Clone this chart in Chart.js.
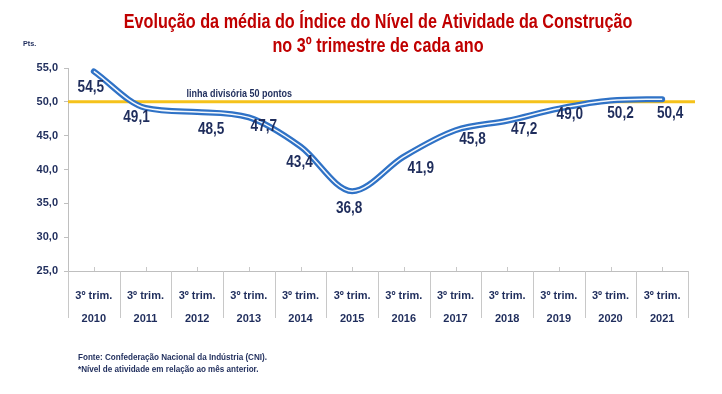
<!DOCTYPE html>
<html>
<head>
<meta charset="utf-8">
<script src="https://cdn.jsdelivr.net/npm/chart.js@4.4.0/dist/chart.umd.min.js"></script>
<style>
  html, body { margin: 0; padding: 0; background: #fff; }
  #wrap { width: 722px; height: 394px; }
</style>
</head>
<body>
<div id="wrap"><canvas id="chart" width="722" height="394"></canvas></div>
<script>
'use strict'
// dados do grafico
const trimestres = ['3º trim.', '3º trim.', '3º trim.', '3º trim.', '3º trim.', '3º trim.',
  '3º trim.', '3º trim.', '3º trim.', '3º trim.', '3º trim.', '3º trim.']
const anos = ['2010', '2011', '2012', '2013', '2014', '2015', '2016', '2017', '2018', '2019', '2020', '2021']
const indice = [54.5, 49.1, 48.5, 47.7, 43.4, 36.8, 41.9, 45.8, 47.2, 49.0, 50.2, 50.4]
const linhaDivisoria = 50
const yTicks = [25, 30, 35, 40, 45, 50, 55]

const titulo = ['Evolução da média do Índice do Nível de Atividade da Construção', 'no 3º trimestre de cada ano']
const rodape = ['Fonte: Confederação Nacional da Indústria (CNI).', '*Nível de atividade em relação ao mês anterior.']

// deslocamento dos rotulos (px)
const rotuloDx = [-3, -9, 14, 15, -1, -3, 17, 17, 17, 11, 10, 8]
const rotuloDy = [16, 10, 18, 9, 16, 17, 12, 9, 9, 6, 13, 14]

const FONTE = '"Liberation Sans", Arial, sans-serif'
const AZUL_TXT = '#1f2d5c'
const fmt = v => v.toFixed(1).replace('.', ',')

// texto "estreito" (escala horizontal)
function textoEstreito(ctx, txt, x, y, esc) {
  ctx.save()
  ctx.translate(x, y)
  ctx.scale(esc, 1)
  ctx.fillText(txt, 0, 0)
  ctx.restore()
}

// plugin para textos, linha amarela e divisorias
const extras = {
  id: 'extras',
  beforeDatasetsDraw(chart) {
    const ctx = chart.ctx
    const y = chart.scales.y.getPixelForValue(linhaDivisoria)
    const a = chart.chartArea
    ctx.save()
    ctx.strokeStyle = '#f5c21b'
    ctx.lineWidth = 3
    ctx.beginPath()
    ctx.moveTo(a.left, y)
    ctx.lineTo(a.right + 7, y)
    ctx.stroke()
    ctx.fillStyle = AZUL_TXT
    ctx.font = 'bold 10px ' + FONTE
    ctx.textBaseline = 'bottom'
    ctx.textAlign = 'left'
    textoEstreito(ctx, 'linha divisória 50 pontos', chart.scales.x.getPixelForValue(1) + 41, y - 3, 0.9)
    ctx.restore()
  },
  afterDraw(chart) {
    const ctx = chart.ctx
    const x = chart.scales.x
    const a = chart.chartArea
    ctx.save()
    // divisorias das categorias
    ctx.strokeStyle = '#c8c8c8'
    ctx.lineWidth = 1
    const passo = x.getPixelForValue(1) - x.getPixelForValue(0)
    for (let i = 0; i <= anos.length; i++) {
      const px = Math.round(x.getPixelForValue(i) - passo / 2) + 0.5
      ctx.beginPath()
      ctx.moveTo(px, a.bottom)
      ctx.lineTo(px, a.bottom + 47)
      ctx.stroke()
    }
    for (let i = 0; i < anos.length; i++) {
      const px = Math.round(x.getPixelForValue(i)) + 0.5
      ctx.beginPath()
      ctx.moveTo(px, a.bottom - 4)
      ctx.lineTo(px, a.bottom)
      ctx.stroke()
    }
    // rotulos dos valores
    const meta = chart.getDatasetMeta(0)
    ctx.fillStyle = AZUL_TXT
    ctx.font = 'bold 16px ' + FONTE
    ctx.textAlign = 'center'
    ctx.textBaseline = 'middle'
    meta.data.forEach((pt, i) => {
      textoEstreito(ctx, fmt(indice[i]), pt.x + rotuloDx[i], pt.y + rotuloDy[i], 0.85)
    })
    // titulo
    ctx.fillStyle = '#c00000'
    ctx.font = 'bold 20px ' + FONTE
    textoEstreito(ctx, titulo[0], 378, 22, 0.81)
    textoEstreito(ctx, titulo[1], 378, 46, 0.81)
    // Pts.
    ctx.fillStyle = AZUL_TXT
    ctx.font = 'bold 8px ' + FONTE
    ctx.textAlign = 'left'
    textoEstreito(ctx, 'Pts.', 23, 44, 0.9)
    // rodape
    ctx.font = 'bold 9px ' + FONTE
    textoEstreito(ctx, rodape[0], 78, 358, 0.9)
    textoEstreito(ctx, rodape[1], 78, 370, 0.9)
    ctx.restore()
  }
}

const ctx = document.getElementById('chart').getContext('2d')
const myChart = new Chart(ctx, {
  type: 'line',
  data: {
    labels: anos.map((a, i) => [trimestres[i], a]),
    datasets: [{
      data: indice,
      order: 2,
      borderColor: '#2f72c6',
      borderWidth: 6,
      borderCapStyle: 'round',
      pointRadius: 0,
      cubicInterpolationMode: 'monotone'
    }, {
      data: indice,
      order: 1,
      borderColor: 'rgba(255,255,255,0.95)',
      borderWidth: 1.5,
      pointRadius: 0,
      cubicInterpolationMode: 'monotone'
    }]
  },
  options: {
    responsive: false,
    animation: false,
    layout: { padding: { top: 68, right: 34, left: 0, bottom: 0 } },
    plugins: { legend: { display: false }, tooltip: { enabled: false } },
    scales: {
      x: {
        offset: true,
        afterFit: s => { s.height = 123 },
        grid: { display: false },
        border: { color: '#bfbfbf', width: 1 },
        ticks: {
          color: AZUL_TXT,
          padding: 5,
          maxRotation: 0,
          font: { family: FONTE, size: 11, weight: 'bold', lineHeight: 2.1 }
        }
      },
      y: {
        min: 25,
        max: 55,
        afterFit: s => { s.width = 68 },
        afterBuildTicks: s => { s.ticks = yTicks.map(v => ({ value: v })) },
        grid: { drawOnChartArea: false, tickLength: 4, color: '#bfbfbf' },
        border: { color: '#bfbfbf', width: 1 },
        ticks: {
          color: AZUL_TXT,
          padding: 6,
          callback: v => fmt(v),
          font: { family: FONTE, size: 11, weight: 'bold' }
        }
      }
    }
  },
  plugins: [extras]
})
</script>
</body>
</html>
